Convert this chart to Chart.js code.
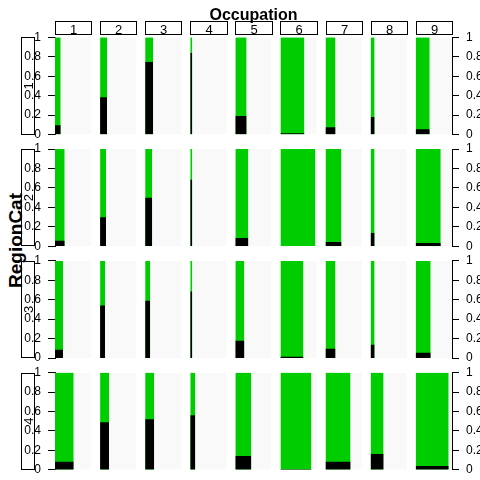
<!DOCTYPE html>
<html><head><meta charset="utf-8">
<script src="https://cdn.jsdelivr.net/npm/chart.js@4.4.1/dist/chart.umd.min.js"></script>
<style>
html,body{margin:0;padding:0;background:#fff;}
#wrap{position:relative;width:480px;height:480px;overflow:hidden;font-family:"Liberation Sans",Arial,sans-serif;}
#wrap canvas{position:absolute;left:0;}
#ylab{position:absolute;left:-84.6px;top:230.5px;width:200px;height:19px;line-height:19px;text-align:center;font-weight:bold;font-size:19px;transform:rotate(-90deg);transform-origin:50% 50%;white-space:nowrap;}
</style>
</head><body>
<div id="wrap"><div id="ylab">RegionCat</div></div>
<script>
// ---- data ----
const occupations = ['1','2','3','4','5','6','7','8','9'];
const regions = ['1','2','3','4'];
const tickValues = [0, 0.2, 0.4, 0.6, 0.8, 1];
const xTitle = 'Occupation';
const yTitle = 'RegionCat';

// bar width as a share of the panel width (count of cell relative to panel)
const widthRegion1 = [0.157, 0.193, 0.220, 0.055, 0.310, 0.660, 0.275, 0.110, 0.386];
const widthRegion2 = [0.267, 0.165, 0.193, 0.055, 0.358, 0.964, 0.440, 0.110, 0.690];
const widthRegion3 = [0.220, 0.138, 0.138, 0.055, 0.248, 0.634, 0.275, 0.110, 0.413];
const widthRegion4 = [0.515, 0.248, 0.248, 0.138, 0.440, 0.854, 0.690, 0.358, 0.909];

// share of the black (first) level inside each bar; the rest is green
const blackRegion1 = [0.096, 0.385, 0.745, 0.838, 0.190, 0.013, 0.075, 0.180, 0.055];
const blackRegion2 = [0.058, 0.300, 0.500, 0.684, 0.086, 0.000, 0.044, 0.137, 0.034];
const blackRegion3 = [0.086, 0.540, 0.590, 0.684, 0.178, 0.013, 0.096, 0.137, 0.055];
const blackRegion4 = [0.082, 0.490, 0.520, 0.560, 0.143, 0.010, 0.082, 0.164, 0.040];

const widths = [widthRegion1, widthRegion2, widthRegion3, widthRegion4];
const blacks = [blackRegion1, blackRegion2, blackRegion3, blackRegion4];

// ---- styling / layout ----
const GREEN = '#00CD00', BLACK = '#000000', PANEL = '#F9F9F9';
const STEP = 1.242;               // panel pitch in panel-width units
const XMAX = (occupations.length - 1) * STEP + 1;
const PANEL_TOP0 = 37.3, PANEL_PITCH = 111.75, PANEL_H = 97.3;
const FONT = '"Liberation Sans", Arial, sans-serif';
document.getElementById('ylab').textContent = yTitle;

function rect(x0, x1, h, color) {
  return {
    data: [{x: x0, y: h}, {x: x1, y: h}],
    backgroundColor: color, borderColor: 'rgba(0,0,0,0)', borderWidth: 0,
    pointRadius: 0, pointHoverRadius: 0, fill: 'origin', tension: 0
  };
}

function yAxis(pos, width) {
  return {
    type: 'linear', position: pos, min: 0, max: 1,
    afterBuildTicks: s => { s.ticks = tickValues.map(v => ({value: v})); },
    afterFit: s => { s.width = width; s.paddingTop = 0; s.paddingBottom = 0; s.paddingLeft = 0; s.paddingRight = 0; },
    ticks: {color: '#000', padding: 7, font: {family: FONT, size: 12}, callback: v => String(v), autoSkip: false},
    grid: {drawOnChartArea: false, drawTicks: true, tickLength: 7, color: '#000', lineWidth: 1},
    border: {display: true, color: '#000', width: 1}
  };
}

const wrap = document.getElementById('wrap');
regions.forEach((reg, r) => {
  const panelTop = PANEL_TOP0 + r * PANEL_PITCH;
  const panelBottom = panelTop + PANEL_H;
  const cTop = r === 0 ? 0 : Math.floor(panelTop - 8);
  const cBottom = Math.min(480, Math.ceil(panelBottom + 8));
  const canvas = document.createElement('canvas');
  canvas.width = 480; canvas.height = cBottom - cTop;
  canvas.style.top = cTop + 'px';
  wrap.appendChild(canvas);

  const blackSets = [], greenSets = [], panelSets = [];
  occupations.forEach((occ, j) => {
    const x0 = j * STEP;
    const x1 = x0 + widths[r][j];
    if (blacks[r][j] > 0) blackSets.push(rect(x0, x1, blacks[r][j], BLACK));
    greenSets.push(rect(x0, x1, 1, GREEN));
    panelSets.push(rect(x0, x0 + 1, 1, PANEL));
  });

  const strips = {
    id: 'strips',
    afterDraw(chart) {
      const ctx = chart.ctx, ca = chart.chartArea, xs = chart.scales.x;
      ctx.save();
      ctx.strokeStyle = '#000'; ctx.lineWidth = 1; ctx.fillStyle = '#000';
      // left strip with the region level
      const t = Math.round(ca.top), b = Math.round(ca.bottom);
      ctx.strokeRect(21.5, t + 0.5, 13, b - t - 1);
      ctx.font = '13px ' + FONT;
      ctx.save();
      ctx.translate(32.5, (ca.top + ca.bottom) / 2);
      ctx.rotate(-Math.PI / 2);
      ctx.textAlign = 'center'; ctx.textBaseline = 'alphabetic';
      ctx.fillText(reg, 0, 0);
      ctx.restore();
      if (r === 0) {
        occupations.forEach((occ, j) => {
          const p0 = Math.round(xs.getPixelForValue(j * STEP));
          const p1 = Math.round(xs.getPixelForValue(j * STEP + 1));
          ctx.strokeRect(p0 + 0.5, 21.5, p1 - p0, 13);
          ctx.textAlign = 'center'; ctx.textBaseline = 'alphabetic';
          ctx.font = '13px ' + FONT;
          ctx.fillText(occ, (p0 + p1) / 2 + 0.5, 34);
        });
        ctx.font = 'bold 16px ' + FONT;
        ctx.textAlign = 'center';
        ctx.fillText(xTitle, (ca.left + ca.right) / 2, 20);
      }
      ctx.restore();
    }
  };

  new Chart(canvas, {
    type: 'line',
    data: {datasets: [...blackSets, ...greenSets, ...panelSets]},
    options: {
      responsive: false, animation: false, events: [],
      devicePixelRatio: 1,
      layout: {padding: {top: panelTop - cTop, bottom: cBottom - panelBottom, left: 0, right: 0}},
      plugins: {legend: {display: false}, tooltip: {enabled: false}, title: {display: false}},
      scales: {
        x: {type: 'linear', min: 0, max: XMAX, display: false},
        y: yAxis('left', 55),
        y2: yAxis('right', 28)
      }
    },
    plugins: [strips]
  });
});
</script>
</body></html>
